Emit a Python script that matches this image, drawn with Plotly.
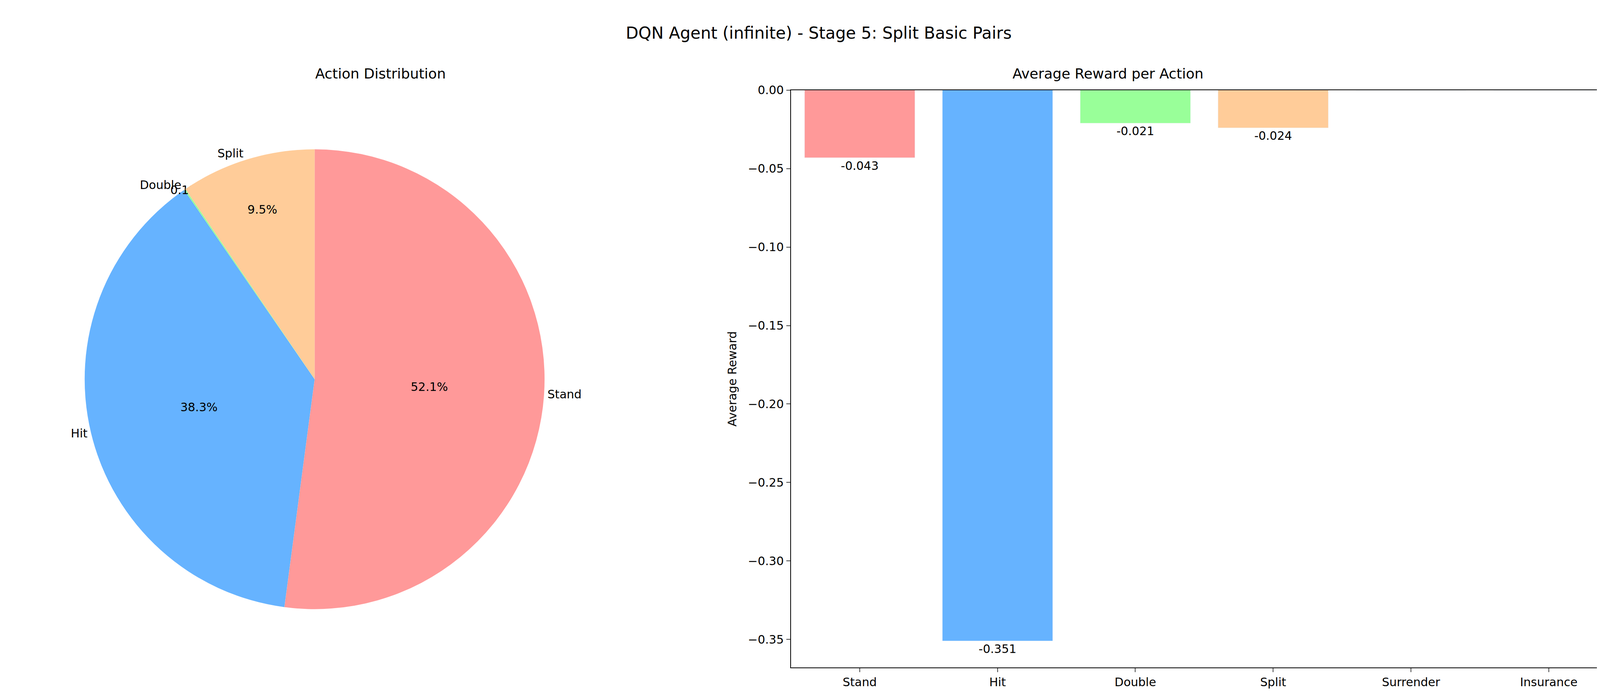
import plotly.graph_objects as go

actions = ["Stand", "Hit", "Double", "Split"]
shares = [52.1, 38.3, 0.1, 9.5]
bar_actions = ["Stand", "Hit", "Double", "Split", "Surrender", "Insurance"]
avg_reward = [-0.043, -0.351, -0.021, -0.024, 0.0, 0.0]
colors = ["#ff9999", "#66b3ff", "#99ff99", "#ffcc99"]
bar_colors = colors + ["#ff9999", "#66b3ff"]

font = "DejaVu Sans"
fig = go.Figure()

pie_domain = dict(x=[0.05, 0.332], y=[0.125, 0.80])

# pie with percentages inside
fig.add_trace(go.Pie(
    labels=actions, values=shares, sort=False, direction="clockwise", rotation=0,
    marker=dict(colors=colors), texttemplate="%{value:.1f}%", textposition="inside",
    insidetextorientation="horizontal", textfont=dict(size=30, color="black"),
    domain=pie_domain, showlegend=False, hoverinfo="skip",
))
# transparent copy for outside labels
fig.add_trace(go.Pie(
    labels=actions, values=shares, sort=False, direction="clockwise", rotation=0,
    marker=dict(colors=["rgba(0,0,0,0)"] * 4), texttemplate="%{label}", textposition="outside",
    textfont=dict(size=30, color="black"), outsidetextfont=dict(size=30, color="black"),
    domain=pie_domain, showlegend=False, hoverinfo="skip",
))

fig.add_trace(go.Bar(
    x=bar_actions, y=avg_reward, marker=dict(color=bar_colors), width=0.8,
    text=[f"{v:.3f}" if v != 0 else "" for v in avg_reward], textposition="outside",
    textfont=dict(size=30, color="black"), cliponaxis=False, showlegend=False,
))

fig.update_layout(
    width=4175, height=1777, paper_bgcolor="white", plot_bgcolor="white",
    font=dict(family=font, size=30, color="black"),
    margin=dict(l=0, r=0, t=0, b=0),
    uniformtext=dict(minsize=30, mode="show"),
    xaxis=dict(domain=[0.483, 0.99], showline=True, mirror=True, linecolor="black", linewidth=2,
               ticks="outside", ticklen=10, tickwidth=2, showgrid=False),
    yaxis=dict(domain=[0.043, 0.883], range=[-0.368, 0], showline=True, mirror=True,
               linecolor="black", linewidth=2, ticks="outside", ticklen=10, tickwidth=2,
               showgrid=False, zeroline=False, tickformat=".2f", dtick=0.05,
               title=dict(text="Average Reward", font=dict(size=30), standoff=20)),
    annotations=[
        dict(text="DQN Agent (infinite) - Stage 5: Split Basic Pairs", x=0.5, y=0.966,
             xref="paper", yref="paper", showarrow=False, font=dict(size=42), yanchor="middle"),
        dict(text="Action Distribution", x=0.191, y=0.907, xref="paper", yref="paper",
             showarrow=False, font=dict(size=36), yanchor="middle"),
        dict(text="Average Reward per Action", x=0.7365, y=0.907, xref="paper", yref="paper",
             showarrow=False, font=dict(size=36), yanchor="middle"),
    ],
)

fig.write_html("out.html")
